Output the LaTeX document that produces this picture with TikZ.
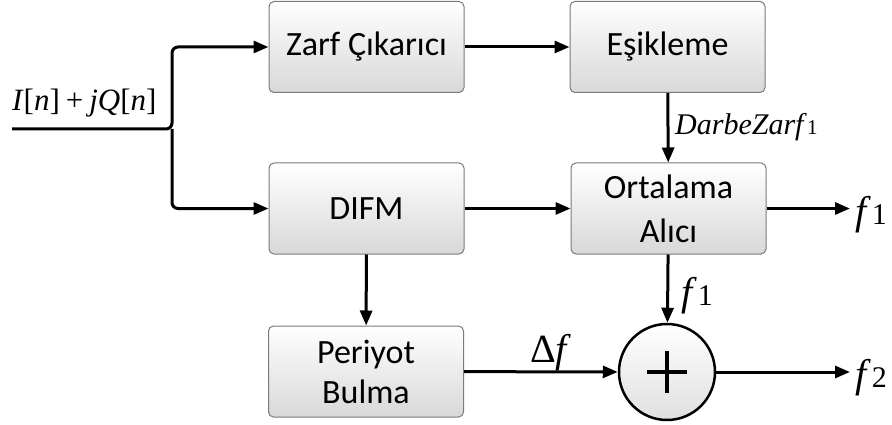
\documentclass[tikz,border=0pt]{standalone}
\usepackage{fontspec}
\setmainfont{Liberation Serif}
\newfontfamily\boxfont{Carlito}
\newfontfamily\tnr{Liberation Serif}
\usetikzlibrary{arrows.meta,calc}
\definecolor{boxedge}{HTML}{7A7A7A}
\definecolor{boxbot}{HTML}{D8D8D8}
\tikzset{
  blk/.style={draw=boxedge, line width=1pt, rounded corners=5pt, top color=white, bottom color=boxbot,
    minimum width=195pt, minimum height=91pt, inner sep=0pt, align=center,
    font=\boxfont\fontsize{34}{44}\selectfont},
  sumnode/.style={circle, draw=black, line width=2.5pt, top color=white, bottom color=boxbot!80,
    minimum size=96pt, inner sep=0pt},
  arr/.style={line width=3pt, -{Triangle[length=15pt,width=12pt]}},
  lbl/.style={inner sep=0pt, font=\tnr\fontsize{40}{40}\selectfont},
}
\begin{document}
\begin{tikzpicture}[x=1pt,y=-1pt]
\useasboundingbox (0,0) rectangle (892,425);
\node[blk] (zarf) at (366.5,47) {Zarf Çıkarıcı};
\node[blk] (esik) at (667.5,47) {Eşikleme};
\node[blk] (difm) at (366.5,208.5) {DIFM};
\node[blk, font=\boxfont\fontsize{34}{44}\selectfont] (ort) at (668.5,208.5) {Ortalama\\Alıcı};
\node[blk, font=\boxfont\fontsize{34}{40}\selectfont] (per) at (366,371.5) {Periyot\\Bulma};
\node[sumnode] (sum) at (667,372) {};
\draw[line width=4pt] ($(sum.center)+(-20,0)$) -- ($(sum.center)+(20,0)$);
\draw[line width=4pt] ($(sum.center)+(0,-21)$) -- ($(sum.center)+(0,21)$);

\coordinate (in) at (12,129);
\coordinate (br) at (172,129);
\coordinate (o1) at (850,208.5);
\coordinate (o2) at (850,372);

\draw[line width=3pt, rounded corners=6pt, -{Triangle[length=15pt,width=12pt]}] (in) -- (br) |- (zarf.west);
\draw[line width=3pt, rounded corners=6pt, -{Triangle[length=15pt,width=12pt]}] (br) |- (difm.west);
\draw[arr] (zarf) -- (esik);
\draw[arr] (esik) -- (ort);
\draw[arr] (difm) -- (ort);
\draw[arr] (difm) -- (per);
\draw[arr] (ort) -- (o1);
\draw[arr] (ort) -- (sum);
\draw[arr] (per) -- (sum);
\draw[arr] (sum) -- (o2);

\node[inner sep=0pt, anchor=base west, font=\tnr\fontsize{31}{31}\selectfont] (inlbl) at (12,111) {\textit{I}[\textit{n}]\kern6pt+\kern6pt\textit{jQ}[\textit{n}]};
\node[inner sep=0pt, anchor=base west, font=\tnr\fontsize{30}{30}\selectfont] (dz) at (675,135) {\textit{DarbeZarf}{\fontsize{21}{21}\selectfont 1}};
\node[lbl, anchor=base west] (f1a) at (855,225) {\textit{f}\kern1pt{\fontsize{30}{30}\selectfont 1}};
\node[lbl, anchor=base west] (f1b) at (681,305) {\textit{f}\kern1pt{\fontsize{30}{30}\selectfont 1}};
\node[lbl, anchor=base west] (df) at (530,362) {Δ\textit{f}};
\node[lbl, anchor=base west] (f2) at (855,387) {\textit{f}\kern1pt{\fontsize{30}{30}\selectfont 2}};
\end{tikzpicture}
\end{document}
